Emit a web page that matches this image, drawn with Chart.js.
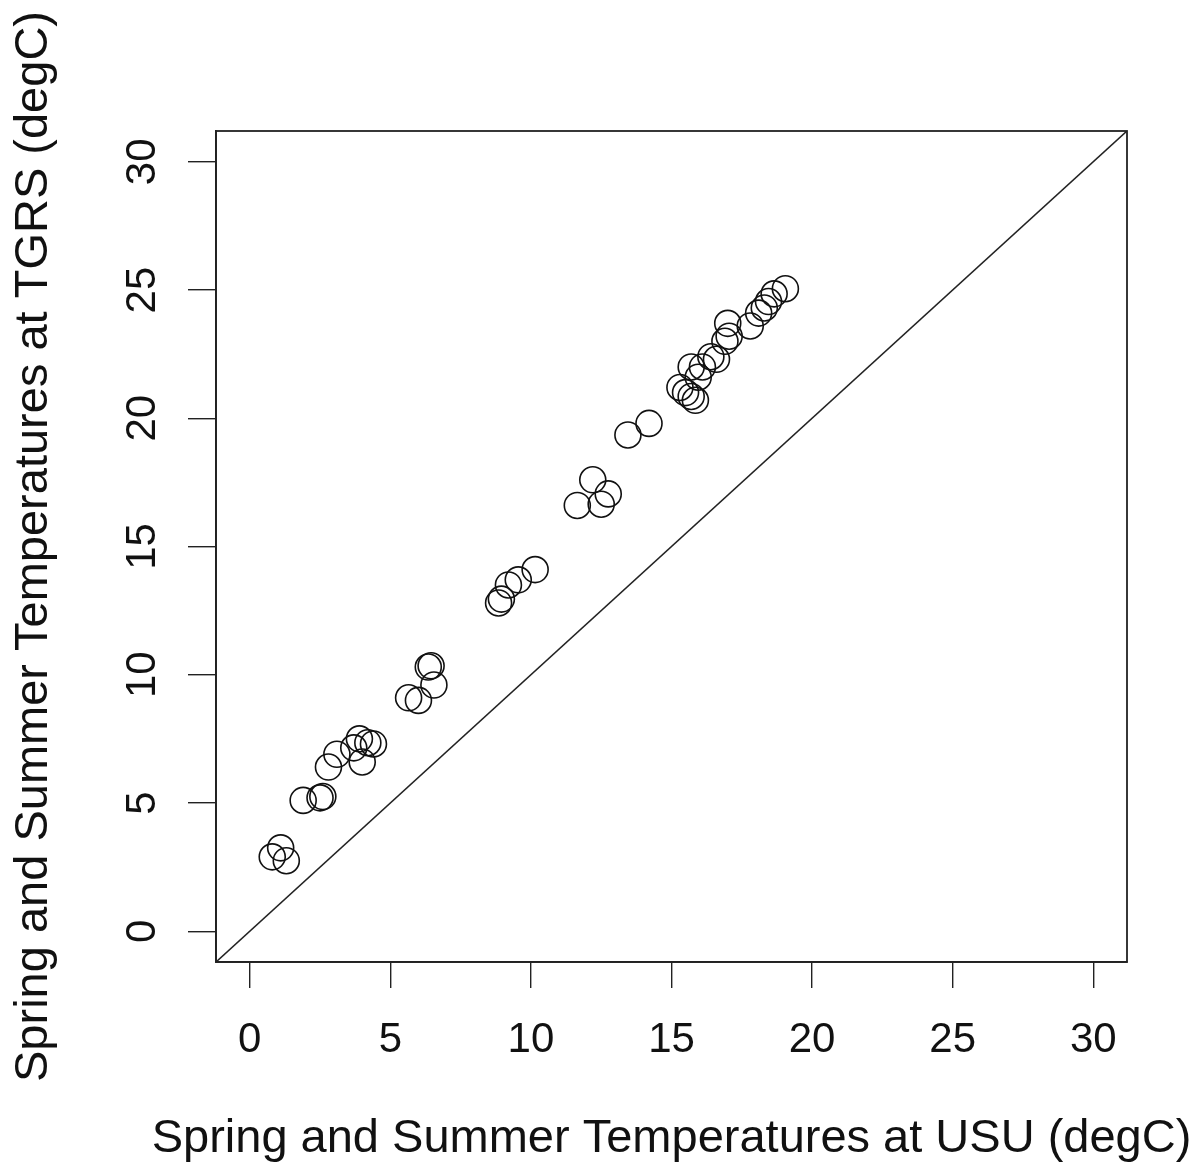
<!DOCTYPE html>
<html>
<head>
<meta charset="utf-8">
<script src="https://cdn.jsdelivr.net/npm/chart.js@4.4.1/dist/chart.umd.min.js"></script>
<style>
    html, body { margin: 0; padding: 0; background: #fff; }
    #wrap { width: 1203px; height: 1174px; }
</style>
</head>
<body>
<div id="wrap"><canvas id="tempChart" width="1203" height="1174"></canvas></div>
<script>
// --- Data ---
const usuTemps = [0.8, 1.1, 1.3, 1.9, 2.5, 2.6, 2.8, 3.1, 3.7, 3.9, 4.0, 4.2, 4.4,
    5.65, 6.0, 6.35, 6.45, 6.55, 8.85, 8.95, 9.2, 9.55, 10.15, 11.65, 12.2, 12.5, 12.75,
    13.45, 14.2, 15.3, 15.5, 15.7, 15.85, 15.7, 15.95, 16.1, 16.4, 16.6, 16.9, 17.05,
    17.0, 17.8, 18.1, 18.3, 18.45, 18.65, 19.05];
const tgrsTemps = [2.9, 3.25, 2.75, 5.1, 5.2, 5.25, 6.4, 6.9, 7.15, 7.5, 6.6, 7.35, 7.3,
    9.1, 9.0, 10.3, 10.35, 9.6, 12.8, 12.95, 13.5, 13.7, 14.1, 16.6, 17.6, 16.65, 17.05,
    19.35, 19.8, 21.2, 21.0, 20.85, 20.7, 22.0, 21.6, 22.0, 22.4, 22.3, 23.0, 23.2,
    23.7, 23.6, 24.1, 24.3, 24.55, 24.85, 25.05];

// ligne 1:1 (y = x) sur toute la largeur du cadre
const refLine = [-1.2, 31.2];
const tickValues = [0, 5, 10, 15, 20, 25, 30];

const xTitle = 'Spring and Summer Temperatures at USU (degC)';
const yTitle = 'Spring and Summer Temperatures at TGRS (degC)';

// --- Style ---
const FONT = 'Liberation Sans, Arial, Helvetica, sans-serif';
const TICK_SIZE = 42;
const TITLE_SIZE = 47;

// --- Plugins ---
// cadre complet autour de la zone du graphe (comme box() dans R)
const boxPlugin = {
    id: 'box',
    afterDraw(chart) {
        const { ctx, chartArea: a } = chart;
        ctx.save();
        ctx.strokeStyle = '#222';
        ctx.lineWidth = 1.8;
        ctx.strokeRect(a.left, a.top, a.right - a.left, a.bottom - a.top);
        ctx.restore();
    }
};

// labels de l'axe Y tournés de 90° (style R, las=0) + titre X sans compression
const labelsPlugin = {
    id: 'rLabels',
    afterDraw(chart) {
        const { ctx, chartArea: a } = chart;
        const yScale = chart.scales.y;
        ctx.save();
        ctx.fillStyle = '#111';
        ctx.font = TICK_SIZE + 'px ' + FONT;
        ctx.textAlign = 'center';
        ctx.textBaseline = 'alphabetic';
        tickValues.forEach(v => {
            ctx.save();
            ctx.translate(155, yScale.getPixelForValue(v));
            ctx.rotate(-Math.PI / 2);
            ctx.fillText(String(v), 0, 0);
            ctx.restore();
        });

        // titre X : le titre natif est limité à la largeur de l'axe
        ctx.font = TITLE_SIZE + 'px ' + FONT;
        ctx.textBaseline = 'middle';
        ctx.fillText(xTitle, (a.left + a.right) / 2, 1139);
        ctx.restore();
    }
};

function setTicks(scale) {
    scale.ticks = tickValues.map(v => ({ value: v }));
}

// --- Chart ---
const ctx = document.getElementById('tempChart').getContext('2d');
const chart = new Chart(ctx, {
    type: 'scatter',
    data: {
        datasets: [
            {
                label: 'TGRS vs USU',
                data: usuTemps.map((x, i) => ({ x: x, y: tgrsTemps[i] })),
                pointStyle: 'circle',
                pointRadius: 13,
                pointHoverRadius: 13,
                borderColor: '#111',
                borderWidth: 1.6,
                backgroundColor: 'rgba(0,0,0,0)',
                showLine: false
            },
            {
                type: 'line',
                label: '1:1',
                data: refLine.map(v => ({ x: v, y: v })),
                borderColor: '#222',
                borderWidth: 1.6,
                pointRadius: 0,
                fill: false
            }
        ]
    },
    options: {
        responsive: false,
        animation: false,
        devicePixelRatio: 1,
        layout: { padding: { top: 131, right: 76, left: 0, bottom: 0 } },
        plugins: {
            legend: { display: false },
            tooltip: { enabled: false }
        },
        scales: {
            x: {
                type: 'linear',
                min: -1.2,
                max: 31.2,
                afterBuildTicks: setTicks,
                afterFit: s => { s.height = 212; },
                border: { display: true, color: '#222', width: 1.8 },
                grid: { drawOnChartArea: false, drawTicks: true, tickLength: 26, color: '#222', lineWidth: 1.4 },
                ticks: {
                    color: '#111',
                    padding: 27,
                    maxRotation: 0,
                    autoSkip: false,
                    font: { family: FONT, size: TICK_SIZE }
                },
                title: { display: false }
            },
            y: {
                type: 'linear',
                min: -1.2,
                max: 31.2,
                afterBuildTicks: setTicks,
                afterFit: s => { s.width = 216; },
                border: { display: true, color: '#222', width: 1.8 },
                grid: { drawOnChartArea: false, drawTicks: true, tickLength: 28, color: '#222', lineWidth: 1.4 },
                ticks: { display: false },
                title: {
                    display: true,
                    text: yTitle,
                    color: '#111',
                    font: { family: FONT, size: TITLE_SIZE },
                    padding: { top: 6, bottom: 0 }
                }
            }
        }
    },
    plugins: [boxPlugin, labelsPlugin]
});
</script>
</body>
</html>
